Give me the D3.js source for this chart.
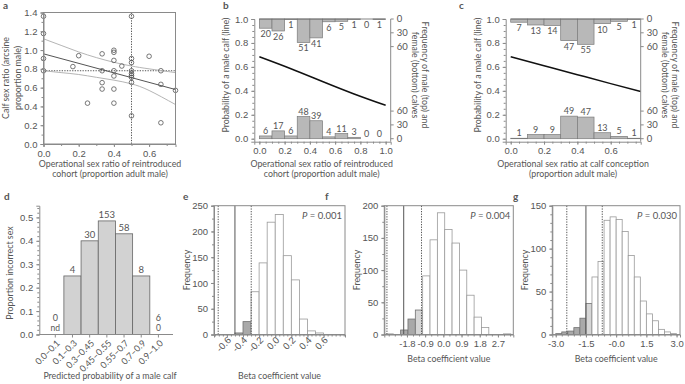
<!DOCTYPE html>
<html>
<head>
<meta charset="utf-8">
<script src="https://cdn.jsdelivr.net/npm/d3@7"></script>
<style>
body { margin: 0; background: #fff; }
svg { display: block; font-family: Lato, "Open Sans", sans-serif; }
text { fill: #555; }
</style>
</head>
<body>
<svg id="fig" width="685" height="384"></svg>
<script>
// ---------- panel a: calf sex ratio vs operational sex ratio
var aOsr = [0, 0, 0, 0, 0.167, 0.2, 0.25, 0.333, 0.333, 0.333, 0.333,
            0.4, 0.4, 0.4, 0.4, 0.4, 0.4, 0.4, 0.445,
            0.5, 0.5, 0.5, 0.5, 0.5, 0.5, 0.5, 0.5, 0.5,
            0.6, 0.667, 0.667, 0.667, 0.75];
var aRatio = [1.36, 1.176, 0.91, 0.78, 0.824, 0.94, 0.435, 0.96, 0.78, 0.653, 0.585,
              0.998, 0.976, 0.89, 0.78, 0.724, 0.585, 0.435, 0.83,
              1.36, 0.91, 0.866, 0.78, 0.75, 0.71, 0.73, 0.656, 0.30,
              0.934, 0.78, 0.635, 0.226, 0.571];
var aFitX = [0, 0.75];
var aFitY = [0.96, 0.58];
var aCiX = [0, 0.1, 0.2, 0.3, 0.4, 0.5, 0.6, 0.75];
var aCiUpper = [1.12, 1.05, 0.98, 0.92, 0.87, 0.83, 0.80, 0.76];
var aCiLower = [0.78, 0.76, 0.74, 0.71, 0.68, 0.64, 0.57, 0.42];
var aRefOsr = 0.5, aRefRatio = 0.78;
var aXTicks = [0, 0.2, 0.4, 0.6];
var aYTicks = [0, 0.2, 0.4, 0.6, 0.8, 1.0, 1.2, 1.4];

// ---------- panel b
var bLo = [0, 0.1, 0.2, 0.3, 0.4, 0.5, 0.6, 0.7, 0.8, 0.9];
var bHi = [0.1, 0.2, 0.3, 0.4, 0.5, 0.6, 0.7, 0.8, 0.9, 1.0];
var bMale = [20, 26, 1, 51, 41, 6, 5, 1, 0, 1];
var bFemale = [6, 17, 6, 48, 39, 4, 11, 3, 0, 0];
var bCurveX = [0, 0.25, 0.5, 0.75, 1.0];
var bCurveY = [0.685, 0.585, 0.478, 0.374, 0.279];
var bXTicks = [0, 0.2, 0.4, 0.6, 0.8, 1.0];

// ---------- panel c
var cLo = [0, 0.1, 0.2, 0.3, 0.4, 0.5, 0.6, 0.7];
var cHi = [0.1, 0.2, 0.3, 0.4, 0.5, 0.6, 0.7, 0.78];
var cMale = [7, 13, 14, 47, 55, 10, 5, 1];
var cFemale = [1, 9, 9, 49, 47, 13, 5, 1];
var cCurveX = [0, 0.2, 0.4, 0.6, 0.78];
var cCurveY = [0.685, 0.61, 0.535, 0.46, 0.395];
var cXTicks = [0, 0.2, 0.4, 0.6];

var probTicks = [0, 0.2, 0.4, 0.6, 0.8, 1.0];
var freqTicks = [0, 30, 60];

// ---------- panel d
var dBins = ["0.0\u20130.1", "0.1\u20130.3", "0.3\u20130.45", "0.45\u20130.55", "0.55\u20130.7", "0.7\u20130.9", "0.9\u20131.0"];
var dProp = [null, 0.25, 0.40, 0.485, 0.43, 0.25, 0];
var dN = [0, 4, 30, 153, 58, 8, 6];
var dYTicks = [0, 0.1, 0.2, 0.3, 0.4, 0.5];

// ---------- panels e, f, g: randomisation histograms
var eCounts = [3, 25, 83, 139, 218, 233, 153, 106, 30, 7, 3];
var eShade = ["d", "d", "", "", "", "", "", "", "", "", ""];
var eBinStart = -0.5, eBinWidth = 0.1;
var eObs = -0.5, eCi = [-0.708, -0.298];
var eXTicks = [-0.6, -0.4, -0.2, 0, 0.2, 0.4, 0.6];
var eXLabels = ["-0.6", "-0.4", "-0.2", "0.0", "0.2", "0.4", "0.6"];
var eYTicks = [0, 50, 100, 150, 200, 250];

var fCounts = [1, 0, 7, 24, 38, 91, 147, 189, 163, 142, 100, 61, 27, 11, 0, 0, 1];
var fShade = ["", "", "d", "d", "l", "", "", "", "", "", "", "", "", "", "", "", ""];
var fBinStart = -2.84, fBinWidth = 0.3635;
var fObs = -1.96, fCi = [-2.79, -1.08];
var fXTicks = [-1.8, -0.9, 0, 0.9, 1.8, 2.7];
var fXLabels = ["-1.8", "-0.9", "0.0", "0.9", "1.8", "2.7"];
var fYTicks = [0, 50, 100, 150, 200];

var gCounts = [1, 3, 4, 8, 19, 36, 67, 85, 133, 137, 134, 120, 92, 67, 39, 24, 16, 6, 3, 1];
var gShade = ["d", "d", "d", "d", "d", "l", "", "", "", "", "", "", "", "", "", "", "", "", "", ""];
var gBinStart = -3.0, gBinWidth = 0.3;
var gObs = -1.5, gCi = [-2.45, -0.69];
var gXTicks = [-3, -1.5, 0, 1.5, 3];
var gXLabels = ["-3.0", "-1.5", "-0.0", "1.5", "3.0"];
var gYTicks = [0, 50, 100, 150];

// ---------------------------------------------------------------
var svg = d3.select("#fig");
var AX = "#8a8a8a", INK = "#555";

function styleAxis(g, fs) {
    g.select(".domain").attr("stroke", AX);
    g.selectAll(".tick line").attr("stroke", AX);
    g.selectAll(".tick text").attr("fill", INK).style("font-size", (fs || 9.5) + "px");
}
function minor(g, axisFn, vals) {
    g.call(axisFn.tickValues(vals).tickSize(2).tickFormat(""));
    g.select(".domain").remove();
    g.selectAll(".tick line").attr("stroke", AX);
}
function range(a, b, s) {
    var out = [];
    for (var v = a; v <= b + 1e-9; v += s) out.push(+v.toFixed(4));
    return out;
}
function vText(x, y, txt, ang, fs) {
    return svg.append("text")
        .attr("transform", "translate(" + x + "," + y + ") rotate(" + ang + ")")
        .attr("text-anchor", "middle")
        .style("font-size", (fs || 8.8) + "px")
        .text(txt);
}
function hText(x, y, txt, fs, anchor) {
    return svg.append("text").attr("x", x).attr("y", y)
        .attr("text-anchor", anchor || "middle")
        .style("font-size", (fs || 8.8) + "px")
        .text(txt);
}
function letter(x, y, t) {
    svg.append("text").attr("x", x).attr("y", y).text(t)
        .style("font-size", "10px").style("font-weight", "bold").attr("fill", "#222");
}
function dotted(g, x1, y1, x2, y2) {
    g.append("line").attr("x1", x1).attr("y1", y1).attr("x2", x2).attr("y2", y2)
        .attr("stroke", "#444").attr("stroke-width", 0.9).attr("stroke-dasharray", "1.3,1.3");
}

// ---------- panel a
(function () {
    var x = d3.scaleLinear().domain([0, 0.75]).range([43.5, 175.5]);
    var y = d3.scaleLinear().domain([0, 1.4]).range([144, 12.5]);
    var g = svg.append("g");

    dotted(g, x(aRefOsr), y(1.4), x(aRefOsr), y(0));
    dotted(g, x(0), y(aRefRatio), x(0.75), y(aRefRatio));

    var ci = d3.line().curve(d3.curveNatural);
    g.append("path").attr("d", ci(aCiX.map(function (d, i) { return [x(d), y(aCiUpper[i])]; })))
        .attr("fill", "none").attr("stroke", "#b5b5b5").attr("stroke-width", 1);
    g.append("path").attr("d", ci(aCiX.map(function (d, i) { return [x(d), y(aCiLower[i])]; })))
        .attr("fill", "none").attr("stroke", "#b5b5b5").attr("stroke-width", 1);
    g.append("path").attr("d", d3.line()(aFitX.map(function (d, i) { return [x(d), y(aFitY[i])]; })))
        .attr("fill", "none").attr("stroke", "#555").attr("stroke-width", 1);

    g.selectAll("circle").data(aOsr).enter().append("circle")
        .attr("cx", function (d) { return x(d); })
        .attr("cy", function (d, i) { return y(aRatio[i]); })
        .attr("r", 2.3).attr("fill", "none").attr("stroke", "#555").attr("stroke-width", 0.8);

    g.append("rect").attr("x", x(0)).attr("y", y(1.4))
        .attr("width", x(0.75) - x(0)).attr("height", y(0) - y(1.4))
        .attr("fill", "none").attr("stroke", AX);

    var xa = g.append("g").attr("transform", "translate(0," + y(0) + ")")
        .call(d3.axisBottom(x).tickValues(aXTicks).tickSize(3).tickFormat(d3.format(".1f")));
    styleAxis(xa);
    minor(g.append("g").attr("transform", "translate(0," + y(0) + ")"), d3.axisBottom(x), range(0, 0.7, 0.1));
    var ya = g.append("g").attr("transform", "translate(" + x(0) + ",0)")
        .call(d3.axisLeft(y).tickValues(aYTicks).tickSize(3).tickFormat(d3.format(".1f")));
    styleAxis(ya);
    minor(g.append("g").attr("transform", "translate(" + x(0) + ",0)"), d3.axisLeft(y), range(0, 1.4, 0.1));

    vText(9, 78, "Calf sex ratio (arcsine", -90);
    vText(21, 78, "proportion male)", -90);
    hText(110, 167, "Operational sex ratio of reintroduced");
    hText(110, 176.5, "cohort (proportion adult male)");
    letter(3, 9, "a");
})();

// ---------- panels b and c
function panelBC(o) {
    var g = svg.append("g");
    var x = d3.scaleLinear().domain(o.xDom).range(o.xRange);
    var y = d3.scaleLinear().domain([-0.025, 1]).range([141.7, 19]);
    var f = d3.scaleLinear().domain([0, 260]).range([0, y(0) - y(1)]);
    var R = o.xRange[1];

    // male bars hang from the top, female bars stand on zero
    g.selectAll(".m").data(o.male).enter().append("rect")
        .attr("x", function (d, i) { return x(o.lo[i]); })
        .attr("y", y(1))
        .attr("width", function (d, i) { return x(o.hi[i]) - x(o.lo[i]); })
        .attr("height", function (d) { return f(d); })
        .attr("fill", "#b8b8b8").attr("stroke", "#7a7a7a").attr("stroke-width", 0.7)
        .style("display", function (d) { return d ? null : "none"; });
    g.selectAll(".fm").data(o.female).enter().append("rect")
        .attr("x", function (d, i) { return x(o.lo[i]); })
        .attr("y", function (d) { return y(0) - f(d); })
        .attr("width", function (d, i) { return x(o.hi[i]) - x(o.lo[i]); })
        .attr("height", function (d) { return f(d); })
        .attr("fill", "#b8b8b8").attr("stroke", "#7a7a7a").attr("stroke-width", 0.7)
        .style("display", function (d) { return d ? null : "none"; });

    g.selectAll(".ml").data(o.male).enter().append("text")
        .attr("x", function (d, i) { return (x(o.lo[i]) + x(o.hi[i])) / 2; })
        .attr("y", function (d) { return y(1) + f(d) + 9; })
        .attr("text-anchor", "middle").style("font-size", "9px").text(function (d) { return d; });
    g.selectAll(".fl").data(o.female).enter().append("text")
        .attr("x", function (d, i) { return (x(o.lo[i]) + x(o.hi[i])) / 2; })
        .attr("y", function (d) { return y(0) - f(d) - 2; })
        .attr("text-anchor", "middle").style("font-size", "9px").text(function (d) { return d; });

    g.append("line").attr("x1", x(o.lo[0])).attr("x2", x(o.hi[o.hi.length - 1]))
        .attr("y1", y(1)).attr("y2", y(1)).attr("stroke", "#666").attr("stroke-width", 0.8);

    g.append("path").attr("d", d3.line().curve(d3.curveNatural)(o.cx.map(function (d, i) { return [x(d), y(o.cy[i])]; })))
        .attr("fill", "none").attr("stroke", "#111").attr("stroke-width", 1.5);

    var xa = g.append("g").attr("transform", "translate(0," + y(-0.025) + ")")
        .call(d3.axisBottom(x).tickValues(o.ticks).tickSize(3).tickFormat(d3.format(".1f")));
    styleAxis(xa);
    minor(g.append("g").attr("transform", "translate(0," + y(-0.025) + ")"), d3.axisBottom(x), range(0, o.xDom[1], 0.05));
    var ya = g.append("g").attr("transform", "translate(" + o.xRange[0] + ",0)")
        .call(d3.axisLeft(y).tickValues(probTicks).tickSize(3).tickFormat(d3.format(".1f")));
    styleAxis(ya);
    minor(g.append("g").attr("transform", "translate(" + o.xRange[0] + ",0)"), d3.axisLeft(y), range(0, 1, 0.05));

    // right frequency axis (top part for males, bottom part for females)
    g.append("line").attr("x1", R).attr("x2", R).attr("y1", y(1)).attr("y2", y(-0.025)).attr("stroke", AX);
    var rt = freqTicks.map(function (v) { return y(1) + f(v); })
        .concat(freqTicks.map(function (v) { return y(0) - f(v); }));
    var rl = freqTicks.concat(freqTicks);
    rt.forEach(function (py, i) {
        g.append("line").attr("x1", R).attr("x2", R + 3).attr("y1", py).attr("y2", py).attr("stroke", AX);
        g.append("text").attr("x", R + 6).attr("y", py).attr("dy", "0.35em")
            .style("font-size", "9.5px").text(rl[i]);
    });

    vText(o.xRange[0] - 25, 75, "Probability of a male calf (line)", -90);
    vText(R + 31, 75, "Frequency of male (top) and", 90);
    vText(R + 21, 75, "female (bottom) calves", 90);
    hText(o.titleX, 167, o.title1);
    hText(o.titleX, 176.5, o.title2);
}

panelBC({ xDom: [-0.04, 1.04], xRange: [254.3, 390.7], lo: bLo, hi: bHi, male: bMale, female: bFemale,
          cx: bCurveX, cy: bCurveY, ticks: bXTicks, titleX: 321.7,
          title1: "Operational sex ratio of reintroduced", title2: "cohort (proportion adult male)" });
panelBC({ xDom: [-0.03, 0.78], xRange: [505.7, 640.7], lo: cLo, hi: cHi, male: cMale, female: cFemale,
          cx: cCurveX, cy: cCurveY, ticks: cXTicks, titleX: 573,
          title1: "Operational sex ratio at calf conception", title2: "(proportion adult male)" });
letter(223, 9, "b");
letter(459, 9, "c");

// ---------- panel d
(function () {
    var g = svg.append("g");
    var x = d3.scaleBand().domain(dBins).range([46.7, 167]).padding(0);
    var y = d3.scaleLinear().domain([0, 0.55]).range([334.5, 205.7]);

    g.selectAll("rect").data(dBins).enter().append("rect")
        .attr("x", function (d) { return x(d); })
        .attr("y", function (d, i) { return y(dProp[i] || 0); })
        .attr("width", x.bandwidth())
        .attr("height", function (d, i) { return y(0) - y(dProp[i] || 0); })
        .attr("fill", "#d2d2d2").attr("stroke", "#666").attr("stroke-width", 0.8)
        .style("display", function (d, i) { return dProp[i] ? null : "none"; });

    dBins.forEach(function (b, i) {
        var cx = x(b) + x.bandwidth() / 2;
        if (dProp[i]) {
            g.append("text").attr("x", cx).attr("y", y(dProp[i]) - 2.5)
                .attr("text-anchor", "middle").style("font-size", "9.5px").text(dN[i]);
        } else {
            g.append("text").attr("x", cx).attr("y", 320.5)
                .attr("text-anchor", "middle").style("font-size", "9px").text(dN[i]);
            g.append("text").attr("x", cx).attr("y", 331)
                .attr("text-anchor", "middle").style("font-size", "8.5px").text(dProp[i] === null ? "nd" : "0");
        }
    });

    var ya = g.append("g").attr("transform", "translate(39.3,0)")
        .call(d3.axisLeft(y).tickValues(dYTicks).tickSize(3).tickFormat(d3.format(".1f")));
    styleAxis(ya);
    minor(g.append("g").attr("transform", "translate(39.3,0)"), d3.axisLeft(y), range(0, 0.54, 0.02));

    g.append("line").attr("x1", 39.3).attr("x2", 173).attr("y1", y(0)).attr("y2", y(0)).attr("stroke", AX);
    dBins.forEach(function (b) {
        var cx = x(b) + x.bandwidth() / 2;
        g.append("line").attr("x1", cx).attr("x2", cx).attr("y1", y(0)).attr("y2", y(0) + 3).attr("stroke", AX);
        g.append("text").attr("transform", "translate(" + (cx + 3) + "," + (y(0) + 7) + ") rotate(-45)")
            .attr("text-anchor", "end").attr("dy", "0.35em").style("font-size", "9px").text(b);
    });

    vText(13, 273, "Proportion incorrect sex", -90);
    hText(110, 379, "Predicted probability of a male calf");
    letter(4, 200, "d");
})();

// ---------- panels e, f, g
function histPanel(o) {
    var g = svg.append("g");
    var x = d3.scaleLinear().domain(o.xDom).range(o.xRange);
    var y = d3.scaleLinear().domain([0, o.yMax]).range([334.5, 205.7]);
    var fills = { d: "#a9a9a9", l: "#d6d6d6", "": "#fff" };

    g.selectAll("rect.bar").data(o.counts).enter().append("rect")
        .attr("x", function (d, i) { return x(o.start + i * o.width); })
        .attr("y", function (d) { return y(d); })
        .attr("width", function (d, i) { return x(o.start + (i + 1) * o.width) - x(o.start + i * o.width); })
        .attr("height", function (d) { return y(0) - y(d); })
        .attr("fill", function (d, i) { return fills[o.shade[i]]; })
        .attr("stroke", function (d, i) { return o.shade[i] ? "#707070" : "#9a9a9a"; })
        .attr("stroke-width", 0.8)
        .style("display", function (d) { return d ? null : "none"; });

    o.ci.forEach(function (v) { dotted(g, x(v), y(0), x(v), y(o.yMax)); });
    g.append("line").attr("x1", x(o.obs)).attr("x2", x(o.obs)).attr("y1", y(0)).attr("y2", y(o.yMax))
        .attr("stroke", "#555").attr("stroke-width", 1);

    g.append("rect").attr("x", o.xRange[0]).attr("y", y(o.yMax))
        .attr("width", o.xRange[1] - o.xRange[0]).attr("height", y(0) - y(o.yMax))
        .attr("fill", "none").attr("stroke", AX);

    var ya = g.append("g").attr("transform", "translate(" + o.xRange[0] + ",0)")
        .call(d3.axisLeft(y).tickValues(o.yTicks).tickSize(3));
    styleAxis(ya);
    minor(g.append("g").attr("transform", "translate(" + o.xRange[0] + ",0)"), d3.axisLeft(y), range(0, o.yMax, o.yMinor));

    var xa = g.append("g").attr("transform", "translate(0," + y(0) + ")")
        .call(d3.axisBottom(x).tickValues(o.xTicks).tickSize(3)
            .tickFormat(function (d, i) { return o.xLabels[i]; }));
    styleAxis(xa);
    minor(g.append("g").attr("transform", "translate(0," + y(0) + ")"), d3.axisBottom(x),
        range(o.minorStart, o.minorEnd, o.xMinor));
    if (o.rotate) {
        xa.selectAll(".tick text").attr("text-anchor", "end").attr("dy", "0.35em")
            .attr("transform", "translate(2,4) rotate(-45)").attr("y", 0).attr("x", 0);
    }

    var p = g.append("text").attr("x", o.xRange[1] - 3).attr("y", 219).attr("text-anchor", "end")
        .style("font-size", "9.5px");
    p.append("tspan").style("font-style", "italic").text("P");
    p.append("tspan").text(" = " + o.p);

    vText(o.xRange[0] - 24, 270, "Frequency", -90);
    hText((o.xRange[0] + o.xRange[1]) / 2, o.titleY, "Beta coefficient value");
    letter(o.letterX, 200, o.letter);
}

histPanel({ xDom: [-0.76, 0.866], xRange: [214, 345], yMax: 250, yTicks: eYTicks, yMinor: 25,
            counts: eCounts, shade: eShade, start: eBinStart, width: eBinWidth, obs: eObs, ci: eCi,
            xTicks: eXTicks, xLabels: eXLabels, minorStart: -0.75, minorEnd: 0.85, xMinor: 0.05,
            rotate: true, p: "0.001", titleY: 379, letter: "e", letterX: 183 });
histPanel({ xDom: [-2.92, 3.46], xRange: [384.3, 513.3], yMax: 200, yTicks: fYTicks, yMinor: 25,
            counts: fCounts, shade: fShade, start: fBinStart, width: fBinWidth, obs: fObs, ci: fCi,
            xTicks: fXTicks, xLabels: fXLabels, minorStart: -2.7, minorEnd: 3.3, xMinor: 0.3,
            rotate: false, p: "0.004", titleY: 362, letter: "f", letterX: 325 });
histPanel({ xDom: [-3.17, 3.17], xRange: [552.3, 680], yMax: 150, yTicks: gYTicks, yMinor: 10,
            counts: gCounts, shade: gShade, start: gBinStart, width: gBinWidth, obs: gObs, ci: gCi,
            xTicks: gXTicks, xLabels: gXLabels, minorStart: -3, minorEnd: 3, xMinor: 0.3,
            rotate: false, p: "0.030", titleY: 362, letter: "g", letterX: 513 });
</script>
</body>
</html>
